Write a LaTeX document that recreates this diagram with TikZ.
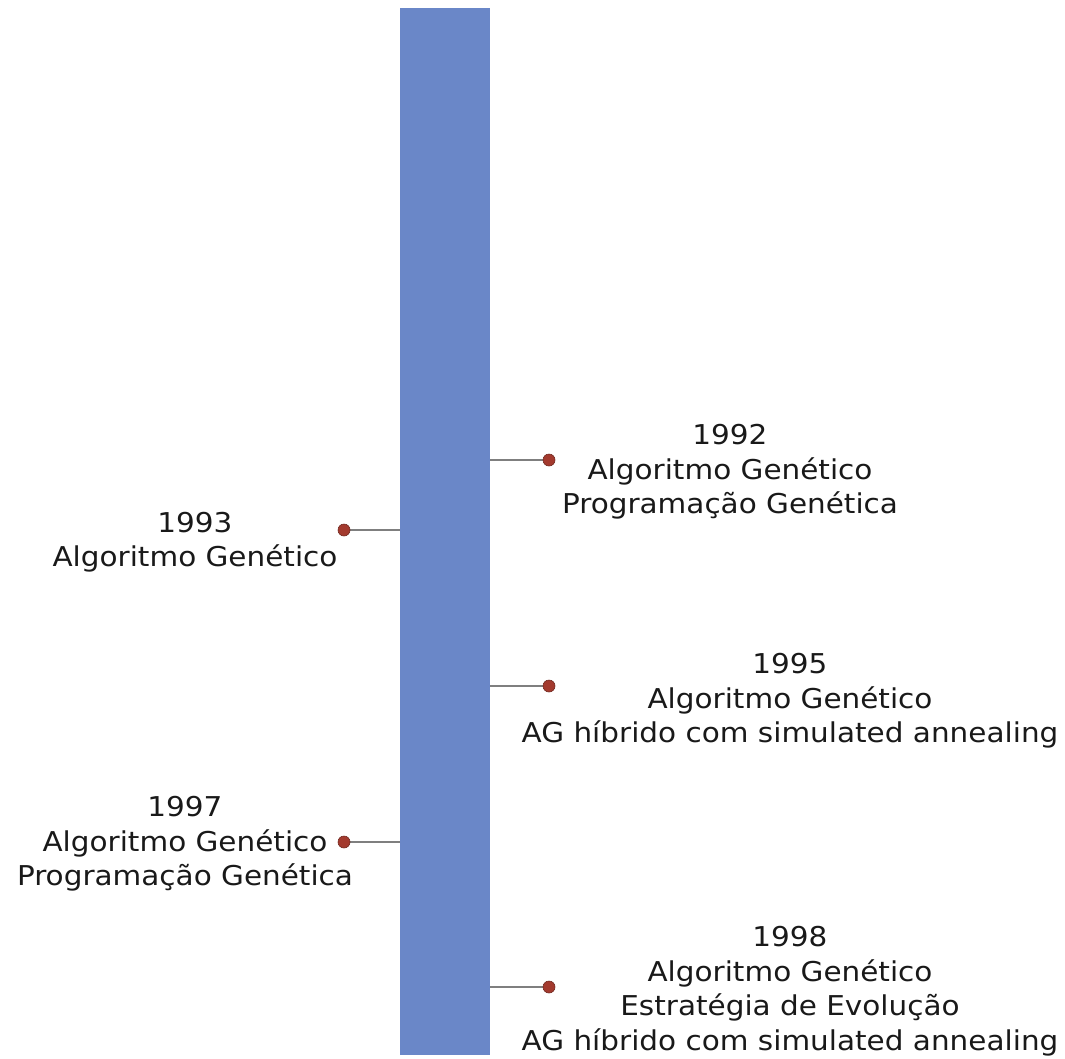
\documentclass[tikz,border=0pt]{standalone}
\usepackage{fontspec}
\setmainfont{DejaVu Sans}[FakeStretch=1.08]
\definecolor{barblue}{HTML}{6A87C8}
\definecolor{stemgray}{HTML}{7F7F7F}
\definecolor{dotred}{HTML}{A33A2E}
\begin{document}
\begin{tikzpicture}[x=1pt,y=-1pt,
  stem/.style={draw=stemgray,line width=2.4pt},
  dot/.style={circle,fill=dotred,draw=dotred!70!black,line width=0.6pt,inner sep=0pt,minimum size=12pt},
  lbl/.style={align=center,inner sep=0pt,font=\fontsize{27.3}{34.5}\selectfont,text=black!90}]
  \useasboundingbox (0,0) rectangle (1065,1058);
  % timeline bar
  \fill[barblue] (400,8) rectangle (490,1055);
  % attachment points on the bar and marker positions
  \coordinate (b92) at (490,460);
  \coordinate (b93) at (400,530);
  \coordinate (b95) at (490,686);
  \coordinate (b97) at (400,842);
  \coordinate (b98) at (490,987);
  \coordinate (m92) at (549,460);
  \coordinate (m93) at (344,530);
  \coordinate (m95) at (549,686);
  \coordinate (m97) at (344,842);
  \coordinate (m98) at (549,987);
  % stems
  \draw[stem] (b92) -- (m92);
  \draw[stem] (b93) -- (m93);
  \draw[stem] (b95) -- (m95);
  \draw[stem] (b97) -- (m97);
  \draw[stem] (b98) -- (m98);
  % markers
  \node[dot] (d92) at (m92) {};
  \node[dot] (d93) at (m93) {};
  \node[dot] (d95) at (m95) {};
  \node[dot] (d97) at (m97) {};
  \node[dot] (d98) at (m98) {};
  % labels
  \node[lbl] (t92) at (730,472) {1992\\Algoritmo Genético\\Programação Genética};
  \node[lbl] (t93) at (195,542) {1993\\Algoritmo Genético};
  \node[lbl] (t95) at (790,701) {1995\\Algoritmo Genético\\AG híbrido com simulated annealing};
  \node[lbl] (t97) at (185,844) {1997\\Algoritmo Genético\\Programação Genética};
  \node[lbl] (t98) at (790,991) {1998\\Algoritmo Genético\\Estratégia de Evolução\\AG híbrido com simulated annealing};
\end{tikzpicture}
\end{document}
